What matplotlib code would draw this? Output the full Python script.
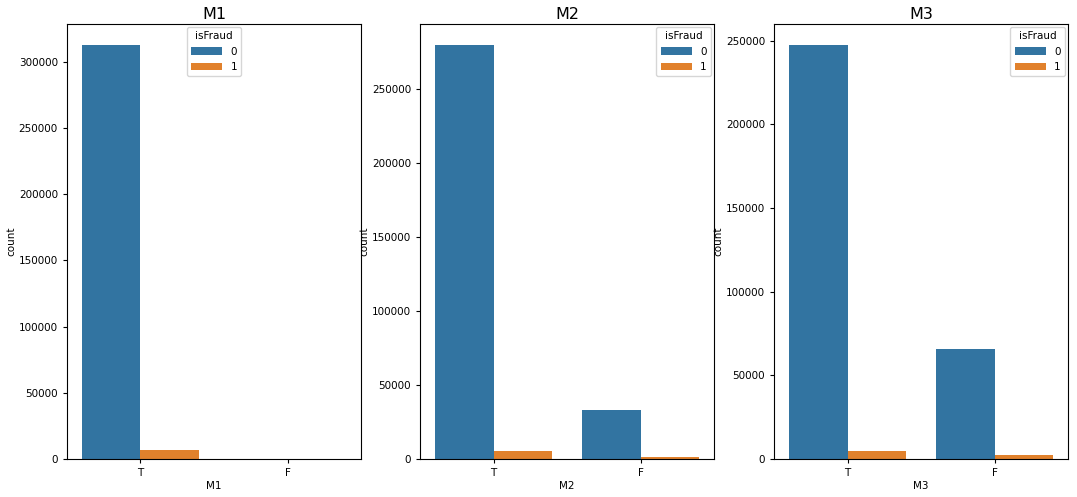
import matplotlib
matplotlib.use("Agg")
import matplotlib.pyplot as plt
import numpy as np

categories = ["T", "F"]
titles = ["M1", "M2", "M3"]
counts_0 = [[313000, 25], [280000, 33000], [247500, 65500]]
counts_1 = [[7000, 0], [5500, 1500], [4500, 2500]]
legend_locs = ["upper center", "upper right", "upper right"]

colors = ["#3274a1", "#e1812c"]

fig = plt.figure(figsize=(10.77, 4.97), dpi=100)
lefts = [0.0622, 0.39, 0.7187]
x = np.arange(len(categories))
for i, name in enumerate(titles):
    ax = fig.add_axes([lefts[i], 0.0765, 0.273, 0.875])
    ax.bar(x - 0.2, counts_0[i], width=0.4, color=colors[0], label="0")
    ax.bar(x + 0.2, counts_1[i], width=0.4, color=colors[1], label="1")
    ax.set_xticks(x)
    ax.set_xticklabels(categories)
    ax.set_xlim(-0.5, 1.5)
    ax.set_xlabel(name, fontsize=7.5, labelpad=2)
    ax.set_ylabel("count", fontsize=7.5, labelpad=2)
    ax.set_title(name, fontsize=11.5, pad=4)
    ax.tick_params(labelsize=7.5, length=3)
    ax.legend(title="isFraud", loc=legend_locs[i], fontsize=7.5,
              title_fontsize=7.5, handlelength=3, borderaxespad=0.3)

fig.savefig("out.png", dpi=100)
